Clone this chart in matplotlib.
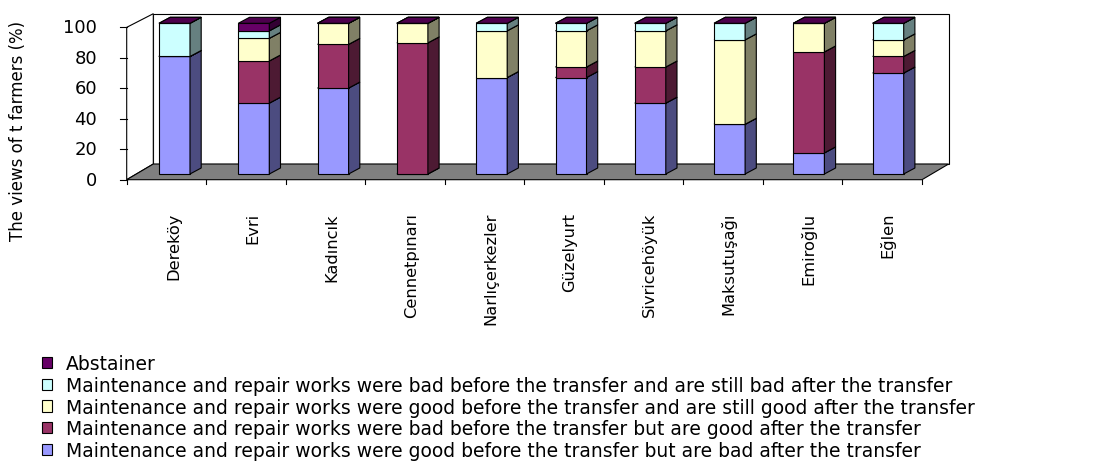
import matplotlib
matplotlib.use('Agg')
import matplotlib.pyplot as plt
from matplotlib.patches import Polygon

# ---------------- data ----------------
categories = ['Dereköy', 'Evri', 'Kadıncık', 'Cennetpınarı', 'Narlıçerkezler',
              'Güzelyurt', 'Sivricehöyük', 'Maksutuşağı', 'Emiroğlu', 'Eğlen']
good_then_bad = [78, 47, 57, 0, 64, 64, 47, 33, 14, 67]
bad_then_good = [0, 28, 29, 87, 0, 7, 24, 0, 67, 11]
good_still_good = [0, 15, 14, 13, 31, 24, 24, 56, 19, 11]
bad_still_bad = [22, 5, 0, 0, 5, 5, 5, 11, 0, 11]
abstainer = [0, 5, 0, 0, 0, 0, 0, 0, 0, 0]
series_labels = [
    'Maintenance and repair works were good before the transfer but are bad after the transfer',
    'Maintenance and repair works were bad before the transfer but are good after the transfer',
    'Maintenance and repair works were good before the transfer and are still good after the transfer',
    'Maintenance and repair works were bad before the transfer and are still bad after the transfer',
    'Abstainer',
]
y_ticks = [0, 20, 40, 60, 80, 100]
y_label = 'The views of t farmers (%)'

series = [good_then_bad, bad_then_good, good_still_good, bad_still_bad, abstainer]
front_colors = ['#9999FF', '#993366', '#FFFFCC', '#CCFFFF', '#660066']
side_colors = ['#4C4C80', '#4D1A33', '#808066', '#668080', '#330033']
top_colors = ['#7373BF', '#73264D', '#BFBF99', '#99BFBF', '#4D004D']

# ---------------- geometry ----------------
W, H = 1097, 464
fig = plt.figure(figsize=(W / 100, H / 100), dpi=100)

X0, PXC = 174.5, 79.3     # pixel of first bar centre, pixels per category
Y0, PXP = 175.0, 1.507    # pixel (from top) of 0 %, pixels per percent
xlim = (-1.2, 9.9)
ylim = (-8.0, 110.0)
left = X0 + PXC * xlim[0]
right = X0 + PXC * xlim[1]
top = Y0 - PXP * ylim[1]
bottom = Y0 - PXP * ylim[0]
ax = fig.add_axes([left / W, 1 - bottom / H, (right - left) / W, (bottom - top) / H])
ax.set_xlim(*xlim)
ax.set_ylim(*ylim)
ax.axis('off')

DX = 11.2 / PXC           # bar depth offset (x)
DY = 6.0 / PXP            # bar depth offset (y)
BW = 31.0 / PXC           # bar width
FX0 = (126.7 - X0) / PXC  # floor front-left
FX1 = (922.0 - X0) / PXC  # floor front-right
FY = (Y0 - 180.7) / PXP   # floor front edge
FDX = 26.6 / PXC          # floor depth x
FDY = 15.7 / PXP          # floor depth y
FS = 1.011                # front-plane scale
WT = (Y0 - 14.7) / PXP    # wall top
LW = 0.8

# back wall
ax.add_patch(Polygon([(FX0 + FDX, FY + FDY), (FX1 + FDX, FY + FDY),
                      (FX1 + FDX, WT), (FX0 + FDX, WT)],
                     closed=True, fc='white', ec='black', lw=LW, zorder=1))
# left wall
ax.add_patch(Polygon([(FX0, FY), (FX0, FY + FS * 100), (FX0 + FDX, WT),
                      (FX0 + FDX, FY + FDY)],
                     closed=True, fc='white', ec='black', lw=LW, zorder=1))
# floor
ax.add_patch(Polygon([(FX0, FY), (FX1, FY), (FX1 + FDX, FY + FDY), (FX0 + FDX, FY + FDY)],
                     closed=True, fc='#808080', ec='black', lw=LW, zorder=1))

# value axis ticks and labels
for v in y_ticks:
    yy = FY + FS * v
    ax.plot([FX0 - 6.5 / PXC, FX0], [yy, yy], color='black', lw=LW, zorder=2)
    ax.text((97 - X0) / PXC, yy, str(v), ha='right', va='center',
            fontsize=13, family='DejaVu Sans')

# category ticks
n = len(categories)
slot = (FX1 - FX0) / n
for k in range(n + 1):
    xx = FX0 + k * slot
    ax.plot([xx, xx], [FY, FY - 4.5 / PXP], color='black', lw=LW, zorder=2)

# category labels
for i, c in enumerate(categories):
    ax.text(i - 1.0 / PXC, (Y0 - 213) / PXP, c, rotation=90, ha='center', va='top',
            fontsize=11.7, family='DejaVu Sans')

# bars
xs = list(range(n))
bottoms = [0.0] * n
handles = []
for s, vals in enumerate(series):
    cont = ax.bar(xs, vals, width=BW, bottom=bottoms, color=front_colors[s],
                  edgecolor='black', linewidth=LW, zorder=3 + s * 0.01,
                  label=series_labels[s])
    handles.append(cont)
    for i in xs:
        b = bottoms[i]
        t = b + vals[i]
        xr = i + BW / 2
        xl = i - BW / 2
        ax.add_patch(Polygon([(xr, b), (xr + DX, b + DY), (xr + DX, t + DY), (xr, t)],
                             closed=True, fc=side_colors[s], ec='black', lw=LW,
                             zorder=3 + s * 0.01))
        ax.add_patch(Polygon([(xl, t), (xl + DX, t + DY), (xr + DX, t + DY), (xr, t)],
                             closed=True, fc=top_colors[s], ec='black', lw=LW,
                             zorder=3 + s * 0.01 + 0.005))
    bottoms = [bottoms[i] + vals[i] for i in xs]

# y label
fig.text(18 / W, 1 - 131 / H, y_label, rotation=90, ha='center', va='center',
         fontsize=12, family='DejaVu Sans')

# legend (reverse order like the original)
fs_leg = 13.5
leg = ax.legend(handles[::-1], series_labels[::-1], loc='upper left',
                bbox_to_anchor=(41.7 / W, 1 - 355 / H), bbox_transform=fig.transFigure,
                frameon=False, handlelength=0.53, handleheight=0.53,
                handletextpad=0.76, labelspacing=0.15, borderpad=0, borderaxespad=0,
                prop={'family': 'DejaVu Sans', 'size': fs_leg})

fig.savefig('out.png', dpi=100, facecolor='white')
